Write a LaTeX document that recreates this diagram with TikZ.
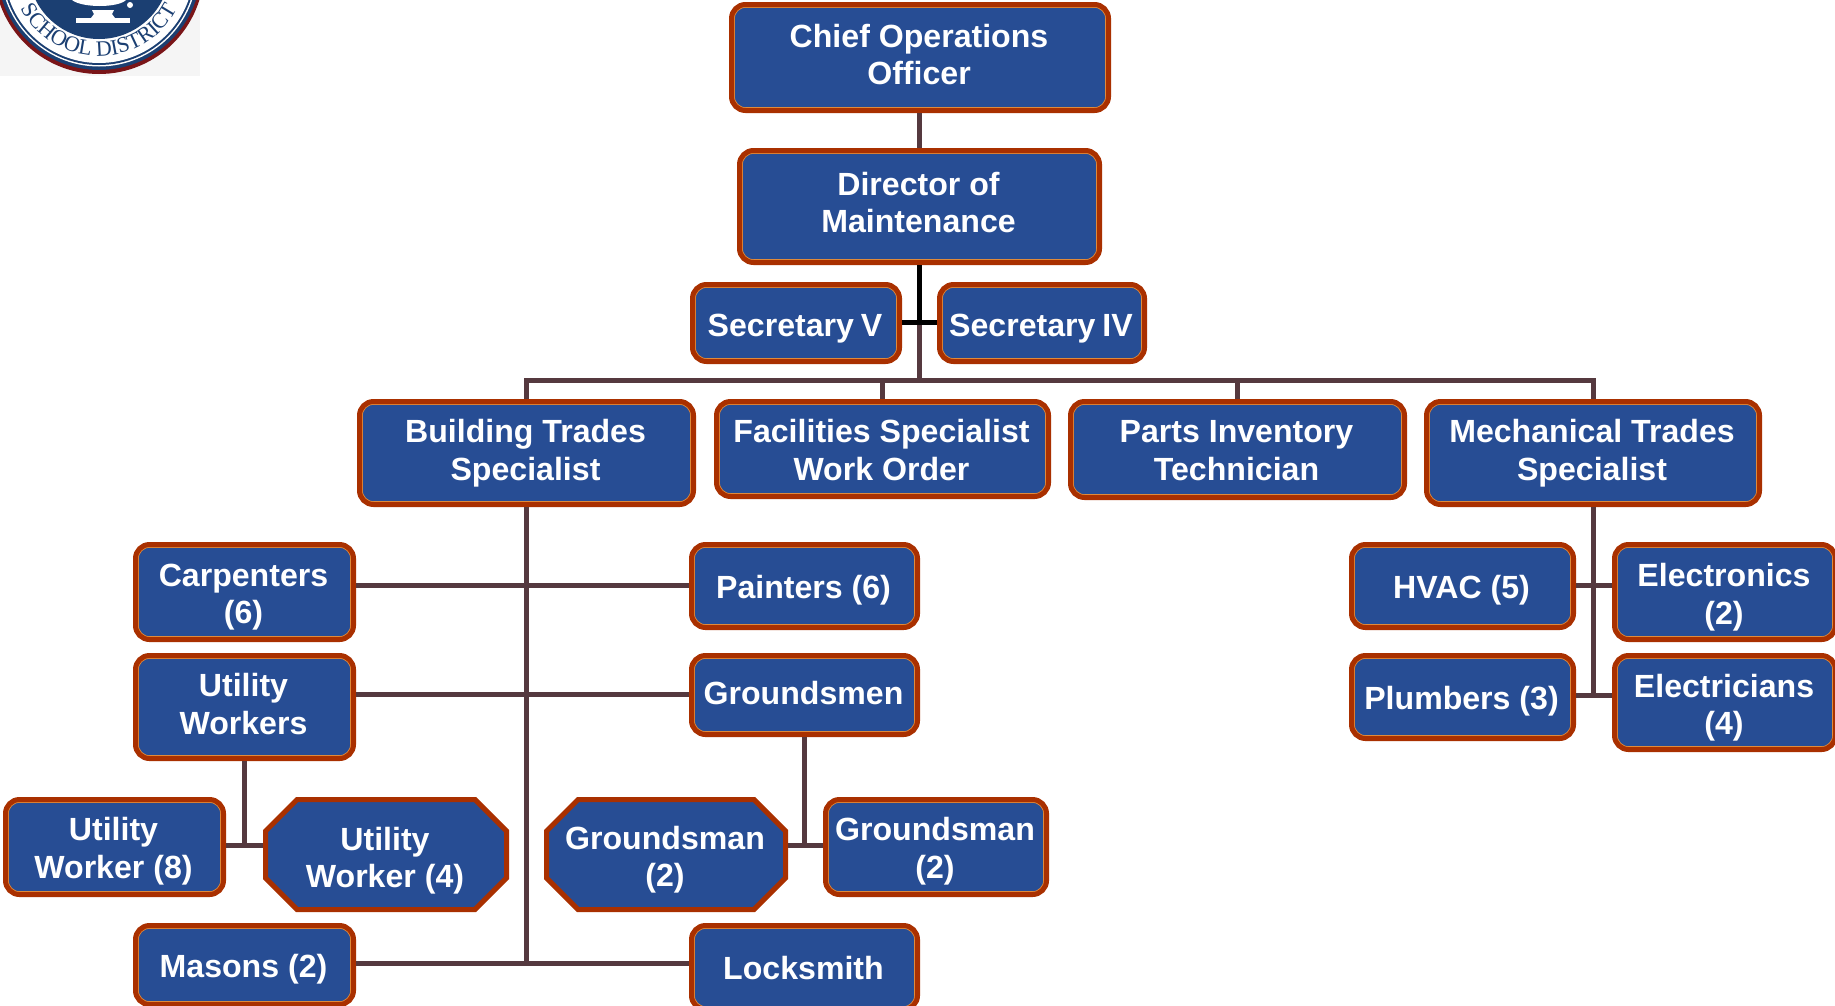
\documentclass[tikz,border=0pt]{standalone}
\usepackage{fontspec}
\setmainfont{Liberation Sans}
\newfontfamily\sealfont{Liberation Serif}
\usetikzlibrary{shapes.misc,decorations.text}
\definecolor{boxblue}{HTML}{274D94}
\definecolor{boxedge}{HTML}{A93000}
\definecolor{boxglow}{HTML}{E08A3A}
\definecolor{linkbrown}{HTML}{55393F}
\definecolor{sealnavy}{HTML}{1B3F72}
\definecolor{sealred}{HTML}{7A1518}
\definecolor{sealpaper}{HTML}{F5F5F5}
\tikzset{
  x=1pt,y=-1pt,
  boxbase/.style={fill=boxblue,draw=boxedge,line width=5pt,inner sep=0pt},
  boxtext/.style={text=white,align=center,inner sep=0pt,xshift=-1pt,
    font=\fontsize{32.1}{37.4}\selectfont\bfseries},
  roundbox/.style={boxbase,rectangle,rounded corners=14pt,
    path picture={\draw[boxglow,line width=6.6pt,rounded corners=14pt]
      (path picture bounding box.south west) rectangle (path picture bounding box.north east);}},
  octbox/.style={boxbase,chamfered rectangle,chamfered rectangle xsep=28pt,chamfered rectangle angle=45},
  link/.style={linkbrown,line width=5pt},
  blacklink/.style={black,line width=5pt},
}
% [shape style] name, x0, x1, y0, y1 (outer edges in pixels), text shift, text
\newcommand{\orgbox}[8][roundbox]{%
  \pgfmathsetmacro{\cxx}{(#3+#4)/2}%
  \pgfmathsetmacro{\cyy}{(#5+#6)/2}%
  \pgfmathsetmacro{\tyy}{(#5+#6)/2+#7}%
  \pgfmathsetmacro{\bww}{#4-#3-5}%
  \pgfmathsetmacro{\bhh}{#6-#5-5}%
  \node[#1,minimum width=\bww pt,minimum height=\bhh pt] (#2) at (\cxx,\cyy) {\phantom{\rule{100pt}{60pt}}};%
  \node[boxtext] (#2-text) at (\cxx,\tyy) {#8};%
}
\begin{document}
\begin{tikzpicture}
\clip (0,0) rectangle (1835,1005);
% seal
\fill[sealpaper] (0,0) rectangle (200,76);
\fill[sealred] (99,-31) circle[radius=105pt];
\fill[sealnavy] (99,-32) circle[radius=102pt];
\fill[white] (99,-32) circle[radius=98.5pt];
\fill[sealnavy] (99,-32) circle[radius=97pt];
\fill[white] (99,-32) circle[radius=95pt];
\fill[sealnavy] (99,-32) circle[radius=71pt];
\fill[white] (76,18) rectangle (130,23);
\fill[white] (92,10) -- (114,10) -- (112,14) -- (115,18) -- (91,18) -- (94,14) -- cycle;
\fill[white] (72,0) .. controls (82,8) and (118,8) .. (126,0) -- cycle;
\fill[white] (130,5) circle[radius=3pt];
\path[decorate,decoration={text along path,text align=center,
    text={|\sealfont\fontsize{22}{22}\selectfont\color{sealnavy}|SCHOOL DISTRICT}}]
  (18,2.4) .. controls (48.3,73.9) and (149.7,73.9) .. (180,2.4);
% boxes
\orgbox{chief}{729}{1111}{2}{113}{-3}{Chief Operations\\Officer}
\orgbox{director}{737}{1102}{148}{265}{-4}{Director of\\Maintenance}
\orgbox{secv}{690}{902}{282}{364}{6}{Secretary\kern-2pt{} V}
\orgbox{seciv}{937}{1147}{282}{364}{6}{Secretary\kern-2pt{} IV}
\orgbox{building}{357}{696}{399}{507}{0}{Building Trades\\Specialist}
\orgbox{facilities}{714}{1051}{399}{499}{1}{Facilities Specialist\\Work Order}
\orgbox{parts}{1068}{1407}{399}{500}{1}{Parts Inventory\\Technician}
\orgbox{mechanical}{1424}{1762}{399}{507}{0}{Mechanical Trades\\Specialist}
\orgbox{carpenters}{133}{356}{542}{642}{5}{Carpenters\\(6)}
\orgbox{painters}{689}{920}{542}{630}{4}{Painters (6)}
\orgbox{utilityworkers}{133}{356}{653}{761}{-3}{Utility\\Workers}
\orgbox{groundsmen}{689}{920}{653}{737}{-2}{Groundsmen}
\orgbox{uweight}{3}{226}{797}{897}{4}{Utility\\Worker (8)}
\orgbox[octbox]{uwfour}{263}{509}{797}{912}{6}{Utility\\Worker (4)}
\orgbox[octbox]{gsoct}{544}{788}{797}{912}{5}{Groundsman\\(2)}
\orgbox{gsrect}{823}{1049}{797}{897}{4}{Groundsman\\(2)}
\orgbox{masons}{133}{356}{923}{1007}{4}{Masons (2)}
\orgbox{locksmith}{689}{920}{923}{1012}{1}{Locksmith}
\orgbox{hvac}{1349}{1576}{542}{630}{4}{HVAC (5)}
\orgbox{electronics}{1612}{1838}{542}{642}{5}{Electronics\\(2)}
\orgbox{plumbers}{1349}{1576}{653}{741}{4}{Plumbers (3)}
\orgbox{electricians}{1612}{1838}{653}{752}{5}{Electricians\\(4)}
% free junctions
\coordinate (busleft) at (building.north |- 0,380);
\coordinate (busright) at (mechanical.north |- 0,380);
\coordinate (busmid) at (director.south |- 0,380);
\coordinate (secjoin) at (director.south |- 0,322);
\coordinate (bstem) at (building.south |- 0,963);
\coordinate (mstem) at (mechanical.south |- 0,695);
% connectors
\draw[link] (director.north |- chief.south) -- (director.north);
\draw[link] (secjoin) -- (busmid);
\draw[blacklink] (director.south) -- (secjoin);
\draw[blacklink] (secv.east |- secjoin) -- (seciv.west |- secjoin);
\draw[link,line cap=rect] (busleft) -- (busright);
\draw[link] (building.north) -- (busleft);
\draw[link] (facilities.north) -- (facilities.north |- busleft);
\draw[link] (parts.north) -- (parts.north |- busleft);
\draw[link] (mechanical.north) -- (busright);
\draw[link] (building.south) -- (bstem);
\draw[link] (carpenters.east |- 0,585) -- (painters.west |- 0,585);
\draw[link] (utilityworkers.east |- 0,694) -- (groundsmen.west |- 0,694);
\draw[link] (masons.east |- bstem) -- (locksmith.west |- bstem);
\draw[link] (utilityworkers.south) -- (utilityworkers.south |- 0,845);
\draw[link] (uweight.east |- 0,845) -- (uwfour.west |- 0,845);
\draw[link] (groundsmen.south) -- (groundsmen.south |- 0,845);
\draw[link] (gsoct.east |- 0,845) -- (gsrect.west |- 0,845);
\draw[link] (mechanical.south) -- (mstem);
\draw[link] (hvac.east |- 0,585) -- (electronics.west |- 0,585);
\draw[link] (plumbers.east |- 0,695) -- (electricians.west |- 0,695);
\end{tikzpicture}
\end{document}
